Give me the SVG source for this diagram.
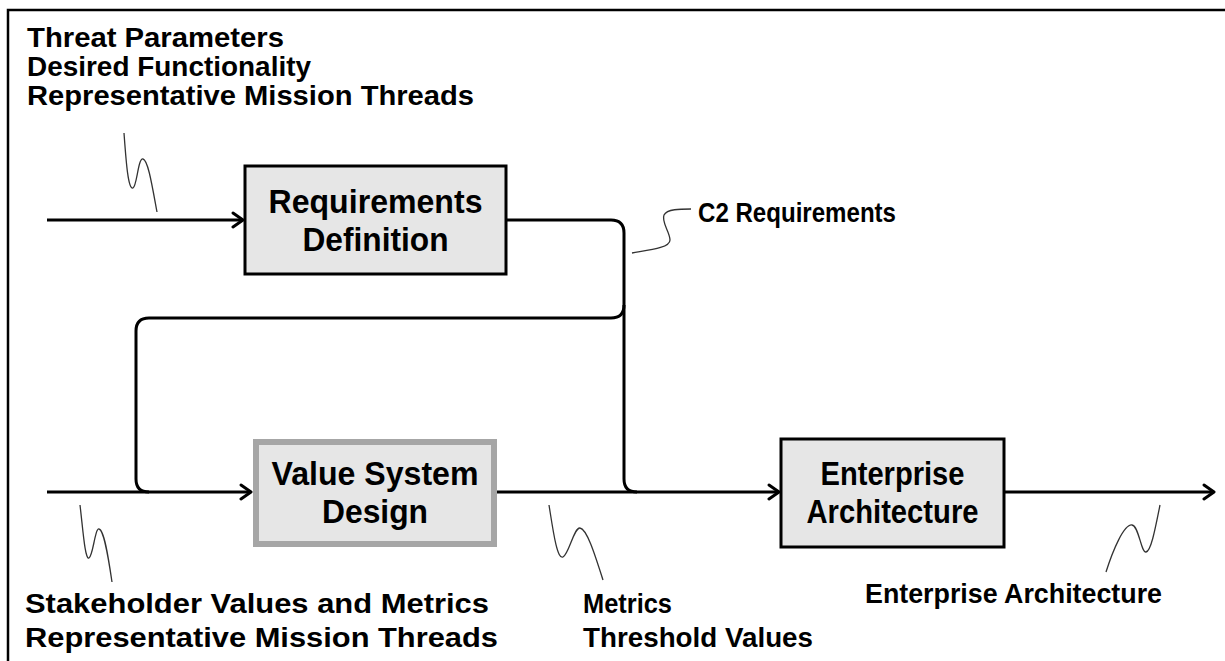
<svg xmlns="http://www.w3.org/2000/svg" width="1225" height="661" viewBox="0 0 1225 661">
<defs>
<marker id="arr" markerUnits="userSpaceOnUse" markerWidth="16" markerHeight="18" refX="13" refY="9" orient="auto">
<path d="M3,2 L13,9 L3,16" fill="none" stroke="#000" stroke-width="3" stroke-linecap="round" stroke-linejoin="round"/>
</marker>
</defs>
<style>
.lbl{font-family:"Liberation Sans",Arial,sans-serif;font-weight:bold;font-size:27px;fill:#000}
.bx{font-family:"Liberation Sans",Arial,sans-serif;font-weight:bold;font-size:34px;fill:#000;text-anchor:middle}
.conn{fill:none;stroke:#000;stroke-width:3}
.sq{fill:none;stroke:#333;stroke-width:1.3}
.box{fill:#e6e6e6;stroke:#000;stroke-width:3}
.vbox{fill:#e6e6e6;stroke:#a6a6a6;stroke-width:6}
</style>
<rect width="1225" height="661" fill="#fff"/>
<path d="M8,661 V10 H1225" fill="none" stroke="#000" stroke-width="2.5"/>

<g id="connectors">
<path class="conn" d="M47,220 H243" marker-end="url(#arr)"/>
<path class="conn" d="M506,220 H611 Q624,220 624,233 V479 Q624,492 637,492"/>
<path class="conn" d="M624,305 Q624,318 611,318 H149 Q136,318 136,331 V479 Q136,492 149,492"/>
<path class="conn" d="M47,492 H251" marker-end="url(#arr)"/>
<path class="conn" d="M497,492 H779" marker-end="url(#arr)"/>
<path class="conn" d="M1004,492 H1214" marker-end="url(#arr)"/>
</g>

<g id="req">
<rect class="box" x="245" y="166" width="261" height="108"/>
<text class="bx" x="375.5" y="213" textLength="214" lengthAdjust="spacingAndGlyphs">Requirements</text>
<text class="bx" x="375.5" y="251" textLength="146" lengthAdjust="spacingAndGlyphs">Definition</text>
</g>

<g id="value">
<rect class="vbox" x="256" y="442" width="238" height="102"/>
<text class="bx" x="375" y="485" textLength="207" lengthAdjust="spacingAndGlyphs">Value System</text>
<text class="bx" x="375" y="523" textLength="106" lengthAdjust="spacingAndGlyphs">Design</text>
</g>

<g id="enterprise">
<rect class="box" x="781" y="439" width="223" height="108"/>
<text class="bx" x="892.5" y="485" textLength="144" lengthAdjust="spacingAndGlyphs">Enterprise</text>
<text class="bx" x="892.5" y="523" textLength="172" lengthAdjust="spacingAndGlyphs">Architecture</text>
</g>

<g id="labels">
<text class="lbl" x="27" y="47" textLength="257" lengthAdjust="spacingAndGlyphs">Threat Parameters</text>
<text class="lbl" x="27" y="76" textLength="284" lengthAdjust="spacingAndGlyphs">Desired Functionality</text>
<text class="lbl" x="27" y="105" textLength="447" lengthAdjust="spacingAndGlyphs">Representative Mission Threads</text>
<text class="lbl" x="698" y="222" textLength="198" lengthAdjust="spacingAndGlyphs">C2 Requirements</text>
<text class="lbl" x="25" y="613" textLength="464" lengthAdjust="spacingAndGlyphs">Stakeholder Values and Metrics</text>
<text class="lbl" x="25" y="647" textLength="473" lengthAdjust="spacingAndGlyphs">Representative Mission Threads</text>
<text class="lbl" x="583" y="613" textLength="89" lengthAdjust="spacingAndGlyphs">Metrics</text>
<text class="lbl" x="583" y="647" textLength="230" lengthAdjust="spacingAndGlyphs">Threshold Values</text>
<text class="lbl" x="865" y="603" textLength="297" lengthAdjust="spacingAndGlyphs">Enterprise Architecture</text>
</g>

<g id="squiggles">
<path class="sq" d="M124,133 C126,160 128,190 133,188 C137,186 138,158 143,159 C148,160 152,185 157,212"/>
<path class="sq" d="M80,505 C83,530 85,560 89,558 C93,556 95,528 99,529 C104,530 108,555 112,582"/>
<path class="sq" d="M549,505 C553,530 557,560 563,557 C569,554 574,527 580,528 C587,529 595,555 603,580"/>
<path class="sq" d="M1106,572 C1113,550 1124,524 1132,525 C1139,526 1141,553 1146,552 C1151,551 1155,530 1160,505"/>
<path class="sq" d="M632,253 C649,250 670,248 670,240 C670,232 661,222 664,215 C667,209 680,209 691,209"/>
</g>
</svg>
